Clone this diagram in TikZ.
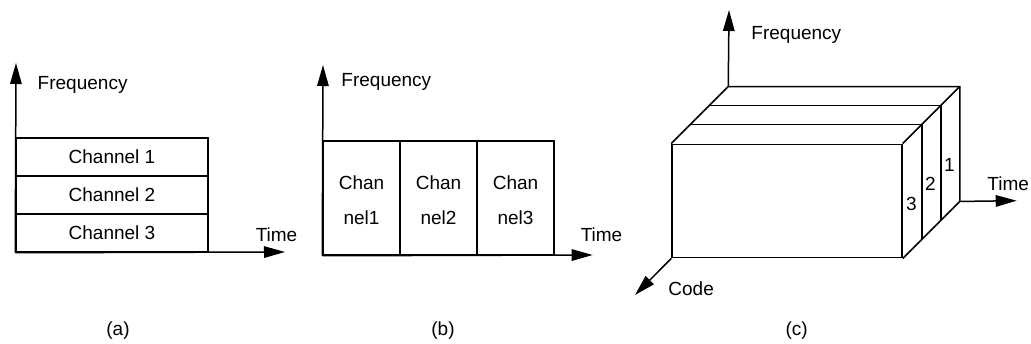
\documentclass[tikz,border=0pt]{standalone}
\usepackage{fontspec}
\setmainfont{Liberation Sans}
\usetikzlibrary{arrows.meta}
\begin{document}
\begin{tikzpicture}[x=1pt,y=-1pt,line width=1.5pt,
  axis/.style={-{Triangle[length=21pt,width=11.5pt]}},
  txt/.style={inner sep=0pt,font=\fontsize{19}{23}\selectfont},
  lbl/.style={txt,anchor=base west},
  ctr/.style={txt,anchor=base},
  chrow/.style={draw,minimum width=192pt,minimum height=38pt,inner sep=0pt,txt},
  cell/.style={draw,minimum width=77pt,minimum height=114pt,inner sep=0pt}]
\useasboundingbox (0,0) rectangle (1031,344);
% ---------- (a) ----------
\node[chrow] (r1) at (112,157) {Channel 1};
\node[chrow] (r2) at (112,195) {Channel 2};
\node[chrow] (r3) at (112,233) {Channel 3};
\coordinate (fa) at (16,63);
\coordinate (ta) at (285,252);
\draw[axis] (r3.south west) -- (fa);
\draw[axis] (r3.south west) -- (ta);
\node[lbl] (fqa) at (37,90) {Frequency};
\node[lbl] (tia) at (255,241.7) {Time};
\node[ctr] (capa) at (118,336) {(a)};
% ---------- (b) ----------
\node[cell] (c1) at (361.5,198) {};
\node[cell] (c2) at (438.5,198) {};
\node[cell] (c3) at (515.5,198) {};
\node[ctr] (c1a) at (361.5,189.3) {Chan};
\node[ctr] (c1b) at (361.5,225) {nel1};
\node[ctr] (c2a) at (438.5,189.3) {Chan};
\node[ctr] (c2b) at (438.5,225) {nel2};
\node[ctr] (c3a) at (515.5,189.3) {Chan};
\node[ctr] (c3b) at (515.5,225) {nel3};
\coordinate (fb) at (323,65);
\coordinate (tb) at (592.7,255);
\draw[axis] (c1.south west) -- (fb);
\draw[axis] (c1.south west) -- (tb);
\node[lbl] (fqb) at (340.7,86.7) {Frequency};
\node[lbl] (tib) at (580,241.7) {Time};
\node[ctr] (capb) at (443,336) {(b)};
% ---------- (c) ----------
\node[draw,minimum width=230pt,minimum height=113.4pt,inner sep=0pt] (front) at (787,201) {};
\coordinate (btl) at ([shift={(57,-57)}]front.north west);
\coordinate (btr) at ([shift={(57,-57)}]front.north east);
\coordinate (bbr) at ([shift={(57,-57)}]front.south east);
\draw (front.north west) -- (btl) -- (btr) -- (bbr) -- (front.south east);
\draw (front.north east) -- (btr);
\draw ([shift={(19,-19)}]front.north west) -- ([shift={(19,-19)}]front.north east) -- ([shift={(19,-19)}]front.south east);
\draw ([shift={(38,-38)}]front.north west) -- ([shift={(38,-38)}]front.north east) -- ([shift={(38,-38)}]front.south east);
\coordinate (fc) at (729,10);
\coordinate (tc) at (1016.7,200.7);
\coordinate (cc) at (635,295);
\draw[axis] (btl) -- (fc);
\draw[axis] (bbr) -- (tc);
\draw[axis] (front.south west) -- (cc);
\node[lbl] (fqc) at (750.7,39.3) {Frequency};
\node[lbl] (tic) at (986.7,190.7) {Time};
\node[lbl] (coc) at (667.7,296) {Code};
\node[ctr] (n1) at (949.5,171.7) {1};
\node[ctr] (n2) at (930.5,190.7) {2};
\node[ctr] (n3) at (911.5,210.7) {3};
\node[ctr] (capc) at (796.7,336) {(c)};
\end{tikzpicture}
\end{document}
